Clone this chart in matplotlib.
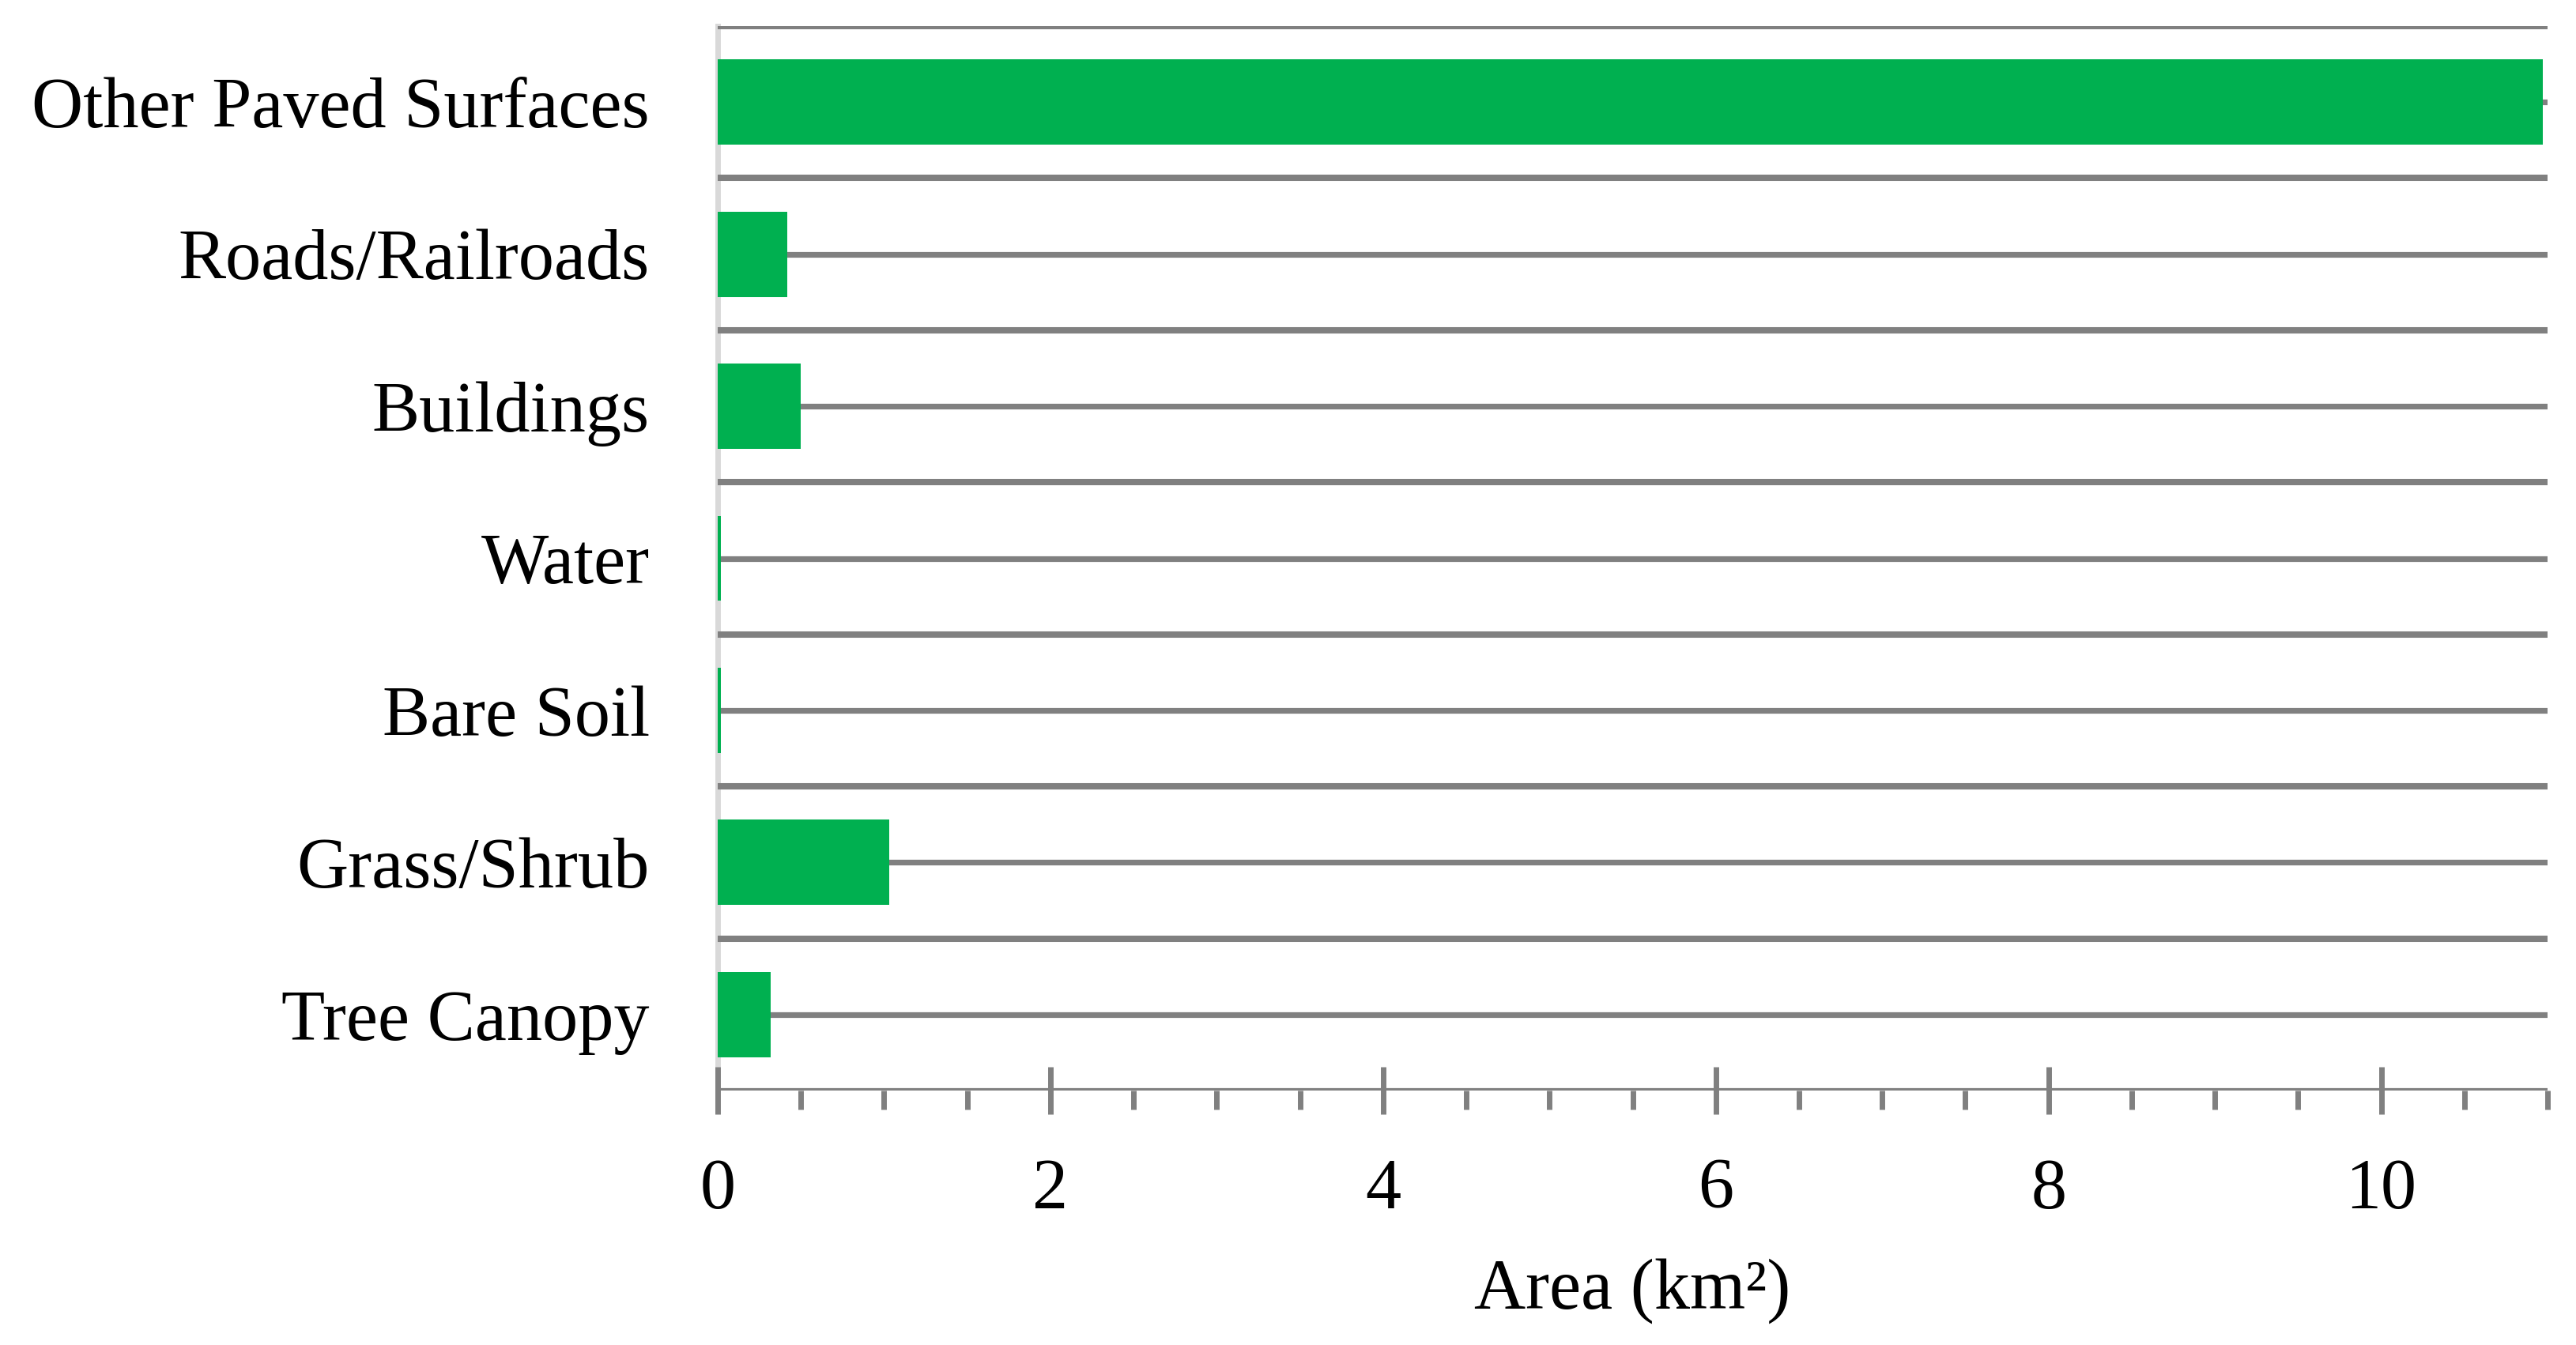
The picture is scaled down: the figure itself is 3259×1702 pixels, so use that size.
import matplotlib
matplotlib.use("Agg")
import matplotlib.pyplot as plt
from matplotlib.ticker import MultipleLocator

# land cover areas, bottom to top as drawn
categories = ["Tree Canopy", "Grass/Shrub", "Bare Soil", "Water",
              "Buildings", "Roads/Railroads", "Other Paved Surfaces"]
area_km2 = [0.32, 1.03, 0.02, 0.02, 0.50, 0.42, 10.97]

GRID = "#808080"
GREEN = "#00B050"
FONT = "Liberation Serif"
FS = 65

plt.rcParams["font.family"] = [FONT, "DejaVu Serif"]

fig = plt.figure(figsize=(32.59, 17.02), dpi=100)
ax = fig.add_axes([0.2786, 0.1892, 0.9890 - 0.2786, 0.9806 - 0.1892])

y = list(range(len(categories)))

# horizontal lines at category centres and boundaries
for k in y:
    ax.axhline(k, color=GRID, lw=5.2, zorder=1)
    ax.axhline(k + 0.5, color=GRID, lw=5.8, zorder=1)
ax.axhline(-0.5, color=GRID, lw=5.2, zorder=3)

ax.barh(y, area_km2, height=0.56, color=GREEN, zorder=2)

ax.set_xlim(0, 11)
ax.set_ylim(-0.5, 6.5)

for side in ["top", "right", "bottom"]:
    ax.spines[side].set_visible(False)
ax.spines["left"].set_color("#D9D9D9")
ax.spines["left"].set_linewidth(5)
ax.spines["left"].set_zorder(0)

ax.set_yticks(y)
ax.set_yticklabels(categories)
ax.tick_params(axis="y", length=0, pad=62, labelsize=FS)

ax.xaxis.set_major_locator(MultipleLocator(2))
ax.xaxis.set_minor_locator(MultipleLocator(0.5))
ax.tick_params(axis="x", which="major", direction="inout", length=43,
               width=5, color=GRID, labelsize=FS, pad=40)
ax.tick_params(axis="x", which="minor", direction="out", length=17,
               width=5, color=GRID)

ax.set_xlabel("Area (km²)", fontsize=FS, labelpad=32)

fig.savefig("out.png", dpi=100, facecolor="white")
